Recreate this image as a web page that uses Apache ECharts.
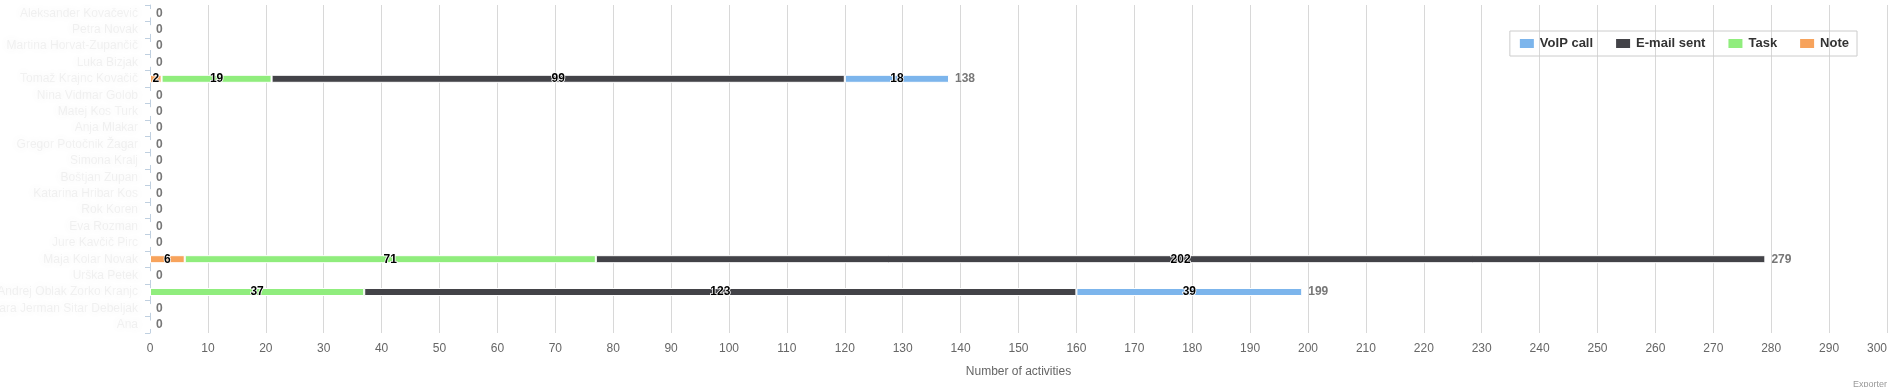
<!DOCTYPE html>
<html>
<head>
<meta charset="utf-8">
<script src="https://cdn.jsdelivr.net/npm/echarts@6/dist/echarts.min.js"></script>
<style>
html,body{margin:0;padding:0;background:#fff;}
#chart{width:1891px;height:387px;}
</style>
</head>
<body>
<div id="chart"></div>
<script>
const categories = [
  "Aleksander Kovačević", "Petra Novak", "Martina Horvat-Zupančič", "Luka Bizjak",
  "Tomaž Krajnc Kovačič", "Nina Vidmar Golob", "Matej Kos Turk", "Anja Mlakar",
  "Gregor Potočnik Žagar", "Simona Kralj", "Boštjan Zupan", "Katarina Hribar Kos",
  "Rok Koren", "Eva Rozman", "Jure Kavčič Pirc", "Maja Kolar Novak",
  "Urška Petek", "Andrej Oblak Zorko Kranjc", "Barbara Jerman Sitar Debeljak", "Ana"
];
const noteValues  = [0,0,0,0,2,0,0,0,0,0,0,0,0,0,0,6,0,0,0,0];
const taskValues  = [0,0,0,0,19,0,0,0,0,0,0,0,0,0,0,71,0,37,0,0];
const emailValues = [0,0,0,0,99,0,0,0,0,0,0,0,0,0,0,202,0,123,0,0];
const voipValues  = [0,0,0,0,18,0,0,0,0,0,0,0,0,0,0,0,0,39,0,0];
const xTicks = { min: 0, max: 300, interval: 10 };

const totals = categories.map((c, i) => noteValues[i] + taskValues[i] + emailValues[i] + voipValues[i]);

const FONT = "'Liberation Sans', Arial, sans-serif";
const chart = echarts.init(document.getElementById('chart'));

const segLabel = {
  show: true,
  position: 'inside',
  color: '#000',
  fontWeight: 'bold',
  fontSize: 12,
  fontFamily: FONT,
  textBorderColor: '#fff',
  textBorderWidth: 1.5,
  formatter: p => (p.value > 0 ? String(p.value) : '')
};

function barSeries(name, data, color) {
  return {
    name, type: 'bar', stack: 'total', data,
    barWidth: 8,
    itemStyle: { color, borderColor: '#fff', borderWidth: 1 },
    label: segLabel,
    emphasis: { disabled: true }
  };
}

chart.setOption({
  animation: false,
  textStyle: { fontFamily: FONT },
  grid: { left: 150, right: 4, top: 5, bottom: 54, containLabel: false, outerBoundsMode: 'none' },
  legend: {
    data: ['VoIP call', 'E-mail sent', 'Task', 'Note'],
    right: 34, top: 31,
    orient: 'horizontal',
    borderColor: '#cccccc', borderWidth: 1, borderRadius: 0,
    padding: [6, 8, 6, 8],
    itemWidth: 16, itemHeight: 11, itemGap: 21,
    icon: 'rect',
    textStyle: { color: '#333', fontWeight: 'bold', fontSize: 13, fontFamily: FONT }
  },
  xAxis: {
    type: 'value',
    min: xTicks.min, max: xTicks.max, interval: xTicks.interval,
    name: 'Number of activities',
    nameLocation: 'middle', nameGap: 33,
    nameTextStyle: { color: '#666', fontSize: 12, fontFamily: FONT },
    axisLine: { show: false },
    axisTick: { show: false },
    axisLabel: { color: '#666', fontSize: 12, margin: 10, fontFamily: FONT, alignMaxLabel: 'right' },
    splitLine: { show: true, lineStyle: { color: '#d8d8d8', width: 1 } }
  },
  yAxis: {
    type: 'category',
    data: categories,
    inverse: true,
    axisLine: { show: true, lineStyle: { color: '#C0D0E0', width: 1 } },
    axisTick: { show: true, length: 5, lineStyle: { color: '#C0D0E0' } },
    axisLabel: {
      fontSize: 12, margin: 12, fontFamily: FONT,
      color: 'rgba(150,150,150,0.12)',
      textShadowColor: 'rgba(110,110,110,0.9)', textShadowBlur: 9
    },
    splitLine: { show: false }
  },
  series: [
    barSeries('Note', noteValues, '#f7a35c'),
    barSeries('Task', taskValues, '#90ed7d'),
    barSeries('E-mail sent', emailValues, '#434348'),
    barSeries('VoIP call', voipValues, '#7cb5ec'),
    {
      name: 'Total', type: 'custom', silent: true,
      data: totals.map((t, i) => [t, i]),
      encode: { x: 0, y: 1 },
      renderItem: (params, api) => {
        const p = api.coord([api.value(0), api.value(1)]);
        return {
          type: 'text',
          style: {
            text: String(api.value(0)),
            x: p[0] + 6, y: p[1],
            verticalAlign: 'middle', align: 'left',
            fill: '#777', font: 'bold 12px ' + FONT
          }
        };
      },
      z: 5
    }
  ],
  graphic: [{
    type: 'text', right: 4, top: 380,
    style: { text: 'Exporter', fill: '#999', font: '9px ' + FONT }
  }]
});
</script>
</body>
</html>
